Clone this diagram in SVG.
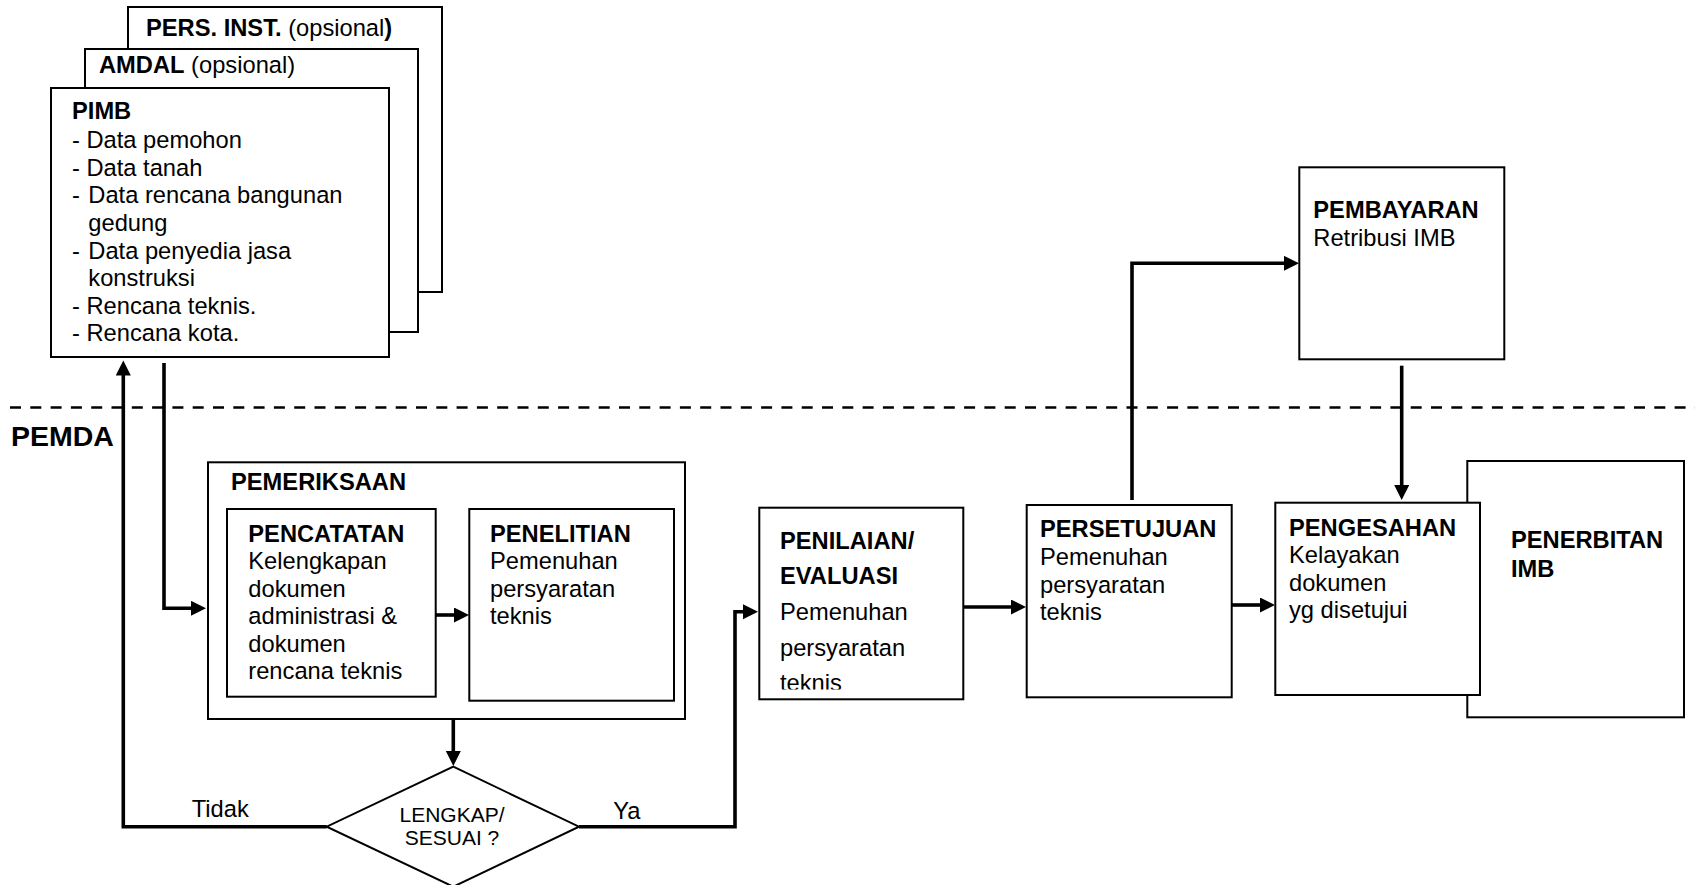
<svg xmlns="http://www.w3.org/2000/svg" width="1695" height="885" viewBox="0 0 1695 885">
<defs>
<style>
text{font-family:"Liberation Sans",Arial,sans-serif;font-size:23.7px;fill:#000}
.b{font-weight:bold}
.box{fill:#fff;stroke:#000;stroke-width:2}
.con{fill:none;stroke:#000;stroke-width:3.6;stroke-linejoin:miter}
.sm{font-size:21px}
</style>
<marker id="arr" markerUnits="userSpaceOnUse" markerWidth="16" markerHeight="16" refX="0.5" refY="7.5" orient="auto">
<path d="M0,0 L15,7.5 L0,15 z" fill="#000"/>
</marker>
<clipPath id="clipEval"><rect x="760" y="500" width="204" height="189.5"/></clipPath>
</defs>
<rect width="1695" height="885" fill="#fff"/>

<line id="divider" x1="10" y1="407.5" x2="1695" y2="407.5" stroke="#000" stroke-width="2.6" stroke-dasharray="11 9.3"/>
<text id="pemda" class="b" x="11" y="446" style="font-size:28.5px">PEMDA</text>

<g id="pers-inst">
<rect class="box" x="128" y="7" width="314" height="285"/>
<text x="146" y="36"><tspan class="b">PERS. INST.</tspan> (opsional<tspan class="b">)</tspan></text>
</g>
<g id="amdal">
<rect class="box" x="85" y="49" width="333" height="283"/>
<text x="99" y="73"><tspan class="b">AMDAL</tspan> (opsional)</text>
</g>
<g id="pimb">
<rect class="box" x="51" y="88" width="338" height="269"/>
<text class="b" x="72" y="119">PIMB</text>
<text x="72" y="148">- Data pemohon</text>
<text x="72" y="175.7">- Data tanah</text>
<text x="72" y="203">-</text><text x="88.3" y="203">Data rencana bangunan</text>
<text x="88.3" y="231">gedung</text>
<text x="72" y="258.5">-</text><text x="88.3" y="258.5">Data penyedia jasa</text>
<text x="88.3" y="286">konstruksi</text>
<text x="72" y="314">- Rencana teknis.</text>
<text x="72" y="341">- Rencana kota.</text>
</g>

<g id="pemeriksaan">
<rect class="box" x="208" y="462.3" width="477" height="256.7"/>
<text class="b" x="231" y="490">PEMERIKSAAN</text>
</g>
<g id="pencatatan">
<rect class="box" x="227" y="509" width="208.7" height="187.7"/>
<text class="b" x="248.3" y="541.7">PENCATATAN</text>
<text x="248.3" y="569">Kelengkapan</text>
<text x="248.3" y="596.7">dokumen</text>
<text x="248.3" y="624.3">administrasi &amp;</text>
<text x="248.3" y="652.3">dokumen</text>
<text x="248.3" y="679.3">rencana teknis</text>
</g>
<g id="penelitian">
<rect class="box" x="469.3" y="509" width="204.7" height="191.7"/>
<text class="b" x="490" y="541.7">PENELITIAN</text>
<text x="490" y="568.5">Pemenuhan</text>
<text x="490" y="596.7">persyaratan</text>
<text x="490" y="624.3">teknis</text>
</g>

<g id="keputusan">
<polygon points="453.3,766.7 579,826.7 453.3,886.7 326.7,826.7" fill="#fff" stroke="#000" stroke-width="2"/>
<text class="sm" x="452" y="821.7" text-anchor="middle">LENGKAP/</text>
<text class="sm" x="452" y="845" text-anchor="middle">SESUAI ?</text>
</g>

<g id="penilaian">
<rect class="box" x="759.3" y="507.7" width="204" height="191.6"/>
<text class="b" x="780" y="549">PENILAIAN/</text>
<text class="b" x="780" y="584">EVALUASI</text>
<text x="780" y="620">Pemenuhan</text>
<text x="780" y="655.7">persyaratan</text>
<text x="780" y="691" clip-path="url(#clipEval)">teknis</text>
</g>

<g id="persetujuan">
<rect class="box" x="1026.7" y="505" width="205" height="192.3"/>
<text class="b" x="1040" y="537.3">PERSETUJUAN</text>
<text x="1040" y="565">Pemenuhan</text>
<text x="1040" y="592.7">persyaratan</text>
<text x="1040" y="620">teknis</text>
</g>

<g id="pembayaran">
<rect class="box" x="1299.3" y="167.3" width="205" height="192"/>
<text class="b" x="1313.3" y="217.7">PEMBAYARAN</text>
<text x="1313.3" y="246">Retribusi IMB</text>
</g>

<g id="penerbitan">
<rect class="box" x="1467.3" y="461" width="216.7" height="256.3"/>
<text class="b" x="1511" y="548.3">PENERBITAN</text>
<text class="b" x="1511" y="576.7">IMB</text>
</g>

<g id="pengesahan">
<rect class="box" x="1275.3" y="502.7" width="204.7" height="192.3"/>
<text class="b" x="1289" y="535.7">PENGESAHAN</text>
<text x="1289" y="563.3">Kelayakan</text>
<text x="1289" y="591">dokumen</text>
<text x="1289" y="618.3">yg disetujui</text>
</g>

<g id="connectors">
<path class="con" d="M164,363 V608.3 H191.5" marker-end="url(#arr)"/>
<path class="con" d="M326.7,826.7 H123.3 V375" marker-end="url(#arr)"/>
<path class="con" d="M453.3,719 V751.5" marker-end="url(#arr)"/>
<path class="con" d="M435.7,615 H454.5" marker-end="url(#arr)"/>
<path class="con" d="M579,826.7 H735 V611.7 H743.5" marker-end="url(#arr)"/>
<path class="con" d="M963.3,607 H1011.5" marker-end="url(#arr)"/>
<path class="con" d="M1132,500 V263.3 H1284.5" marker-end="url(#arr)"/>
<path class="con" d="M1401.7,365.7 V485.5" marker-end="url(#arr)"/>
<path class="con" d="M1231.7,605 H1260.5" marker-end="url(#arr)"/>
</g>
<text id="lbl-tidak" x="191.7" y="816.7">Tidak</text>
<text id="lbl-ya" x="613.3" y="819">Ya</text>
</svg>
